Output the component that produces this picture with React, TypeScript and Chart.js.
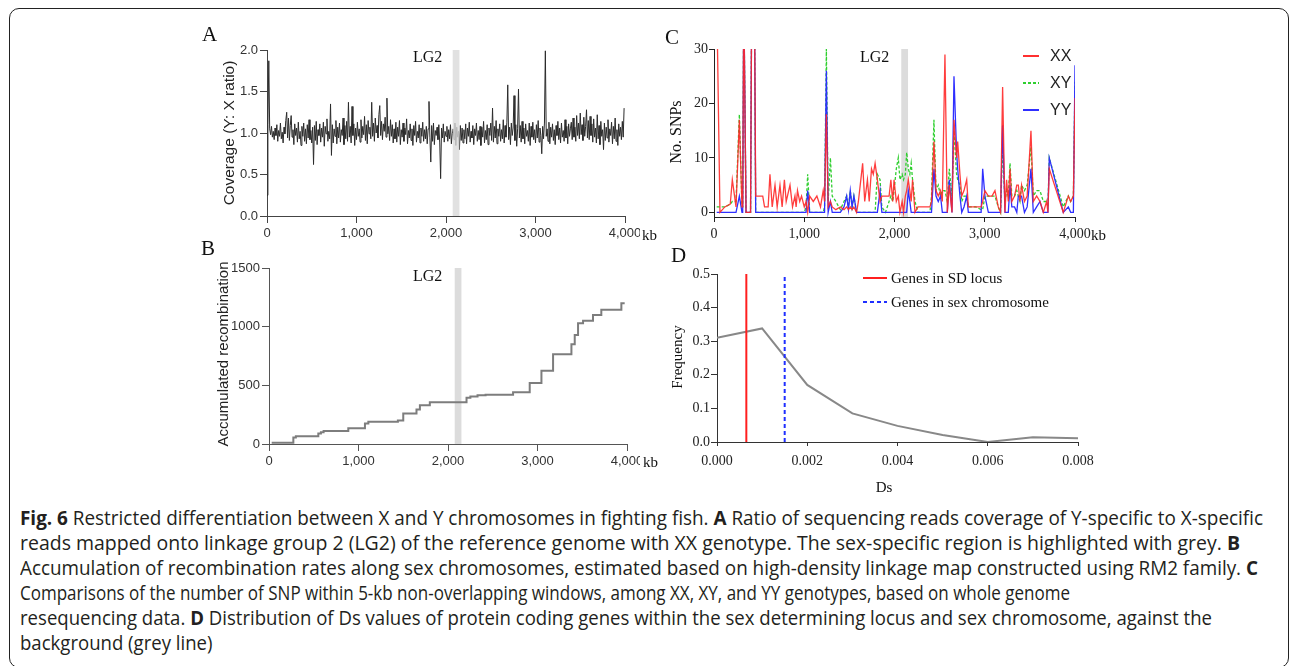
import React, { useEffect, useLayoutEffect, useRef } from "react";
import { Chart, registerables } from "chart.js";

Chart.register(...registerables);

const SANS = '"Liberation Sans", Arial, Helvetica, sans-serif';
const SERIF = '"Liberation Serif", "Times New Roman", Times, serif';
const CAPTION_FONT = '"Open Sans", "Noto Sans", sans-serif';

// ---------- shared ----------
const KB_TICKS = [0, 1000, 2000, 3000, 4000];
const LG2_BAND_KB = [2075, 2150];

// ---------- Panel A: coverage ratio (Y:X), 10-kb windows ----------
const COVERAGE_STEP_KB = 10;
const COVERAGE_RATIO = [
  0.25, 1.10, 1.87, 1.05, 0.98, 1.08, 0.95, 1.02, 0.92, 1.06, 0.97, 1.10, 0.90, 1.03, 0.96, 1.12, 0.93, 1.01, 0.88, 1.07,
  0.99, 1.15, 1.25, 0.94, 1.18, 0.91, 1.09, 1.21, 0.95, 1.04, 0.86, 1.11, 0.97, 1.06, 0.89, 1.13, 0.93, 1.02, 0.85, 1.08,
  0.96, 1.12, 0.90, 1.05, 0.87, 1.10, 0.94, 1.16, 0.92, 1.03, 0.88, 1.07, 0.62, 1.09, 0.91, 1.14, 0.86, 1.04, 0.97, 1.11,
  0.89, 1.06, 0.95, 1.13, 0.84, 1.08, 0.99, 1.17, 0.90, 1.02, 0.93, 1.35, 0.73, 1.10, 0.88, 1.05, 0.96, 1.15, 0.87, 1.07,
  0.94, 1.12, 0.89, 1.04, 0.97, 1.18, 0.86, 1.09, 0.93, 1.14, 0.90, 1.37, 0.95, 1.08, 0.88, 1.32, 0.97, 1.11, 0.85, 1.06,
  0.92, 1.13, 0.96, 1.05, 0.89, 1.16, 0.94, 1.08, 0.98, 1.20, 0.91, 1.10, 0.87, 1.15, 0.99, 1.07, 0.93, 1.37, 0.96, 1.12,
  0.90, 1.18, 1.00, 1.09, 0.94, 1.22, 1.33, 0.97, 1.14, 0.92, 1.11, 1.02, 1.19, 0.95, 1.42, 0.99, 1.08, 0.91, 1.16, 0.96,
  1.10, 0.88, 1.05, 0.93, 1.13, 0.89, 1.07, 0.96, 1.15, 0.86, 1.04, 0.95, 1.12, 0.90, 1.06, 0.98, 1.17, 0.87, 1.03, 0.94,
  1.11, 0.91, 1.05, 0.85, 1.09, 0.97, 1.14, 0.89, 1.02, 0.94, 1.10, 0.88, 1.06, 0.96, 1.13, 0.90, 1.04, 0.93, 1.08, 0.87,
  1.05, 1.38, 0.95, 0.65, 1.09, 0.90, 1.12, 0.86, 1.03, 0.97, 1.07, 0.92, 1.10, 0.88, 0.45, 1.06, 0.94, 1.11, 0.89, 1.02,
  0.96, 1.08, 0.90, 1.04, 0.93, 1.10, 0.87, 0.99, 1.05, 0.92, 1.12, 0.85, 1.07, 0.95, 1.02, 0.80, 1.09, 0.91, 1.06, 0.88,
  1.04, 0.93, 1.11, 0.87, 1.06, 0.96, 1.13, 0.89, 1.02, 0.94, 1.09, 0.86, 1.05, 0.97, 1.12, 0.90, 1.03, 0.92, 1.08, 0.85,
  1.07, 0.95, 1.14, 0.88, 1.03, 0.92, 1.10, 0.86, 1.06, 0.97, 1.12, 0.91, 1.30, 0.89, 1.08, 0.94, 1.15, 0.87, 1.05, 0.96,
  1.11, 0.90, 1.04, 0.93, 1.16, 0.88, 1.09, 0.95, 1.13, 1.58, 0.92, 1.07, 0.86, 1.12, 0.97, 1.06, 1.45, 0.91, 1.10, 0.84,
  1.05, 1.53, 0.94, 1.09, 0.89, 1.14, 0.93, 1.06, 0.87, 1.11, 0.96, 1.03, 0.90, 1.12, 0.85, 1.08, 0.95, 1.13, 0.92, 1.04,
  0.88, 1.10, 0.94, 1.15, 0.89, 1.06, 0.97, 0.75, 1.08, 0.93, 1.12, 1.99, 0.96, 1.05, 0.90, 1.13, 0.87, 1.07, 0.95, 1.11,
  0.91, 1.04, 0.86, 1.09, 0.97, 1.14, 0.92, 1.06, 0.88, 1.12, 0.95, 1.03, 0.90, 1.16, 0.94, 1.08, 0.87, 1.11, 0.96, 1.05,
  1.13, 0.92, 1.18, 0.95, 1.07, 0.90, 1.21, 0.97, 1.12, 0.93, 1.24, 0.98, 1.10, 0.91, 1.19, 0.96, 1.08, 1.28, 0.94, 1.15,
  0.92, 1.20, 0.97, 1.11, 0.89, 1.17, 0.95, 1.06, 0.88, 1.22, 0.93, 1.09, 0.86, 1.14, 0.96, 1.04, 0.80, 1.12, 0.91, 1.07,
  0.94, 1.16, 0.89, 1.05, 0.97, 1.13, 0.87, 1.08, 0.93, 1.18, 0.90, 1.04, 0.85, 1.11, 0.96, 1.07, 0.92, 1.14, 0.95, 1.30,
];
const COVERAGE_TICKS = [0, 0.5, 1, 1.5, 2];

// ---------- Panel B: accumulated recombination (step changes) ----------
const RECOMB_KB = [30, 272, 300, 551, 580, 610, 886, 1072, 1110, 1440, 1500, 1648, 1686, 1797, 2207, 2250, 2330, 2420, 2727, 2913, 3044, 3174, 3379, 3416, 3453, 3509, 3620, 3713, 3937, 3974];
const RECOMB_ACCUM = [10, 55, 65, 90, 100, 110, 135, 175, 190, 200, 260, 295, 330, 355, 395, 405, 415, 420, 440, 520, 625, 765, 850, 930, 1030, 1050, 1100, 1145, 1200, 1200];
const RECOMB_TICKS = [0, 500, 1000, 1500];

// ---------- Panel C: No. SNPs in 5-kb windows ----------
const SNP_KB = [
  30, 66, 120, 180, 203, 244, 281, 310, 318, 330,
  355, 405, 418, 448, 462, 540, 560, 600, 620, 645,
  676, 700, 731, 755, 780, 800, 842, 870, 897, 910,
  925, 950, 970, 1000, 1020, 1038, 1060, 1100, 1140, 1180,
  1210, 1225, 1245, 1265, 1290, 1310, 1350, 1400, 1440, 1470,
  1490, 1510, 1530, 1550, 1580, 1600, 1647, 1670, 1700, 1720,
  1745, 1765, 1785, 1810, 1840, 1860, 1900, 1940, 1960, 1980,
  1995, 2020, 2042, 2060, 2085, 2100, 2120, 2135, 2153, 2170,
  2185, 2200, 2227, 2260, 2300, 2340, 2393, 2410, 2437, 2460,
  2485, 2510, 2530, 2559, 2585, 2607, 2637, 2659, 2688, 2700,
  2725, 2745, 2770, 2800, 2818, 2900, 2960, 2977, 3002, 3040,
  3080, 3113, 3150, 3175, 3198, 3224, 3242, 3261, 3280, 3300,
  3330, 3355, 3372, 3390, 3408, 3440, 3470, 3512, 3538, 3575,
  3612, 3649, 3686, 3700, 3715, 3870, 3926, 3952, 3982, 4000,
];
const SNP_XX = [
  40, 0, 1, 1.5, 6, 1, 17, 1, 1, 40,
  0, 0, 40, 40, 3, 3, 1, 1, 7, 1,
  5, 1, 5, 1, 6, 2, 5, 1, 3, 1,
  4, 2, 3, 1, 2, 0, 3, 2, 3, 1,
  4, 2, 18, 1, 2, 1, 0.5, 1, 0.5, 1,
  0.5, 1, 0.5, 1, 0, 2, 9, 2, 6, 2,
  8, 7, 9, 6, 2, 3, 3, 3, 6, 2,
  6, 2, 3, 0, 2, 0, 3, 4, 6, 4,
  2, 6, 0, 1, 1, 1, 1, 2, 13, 4,
  3, 4, 2, 29, 0, 5, 0, 17, 10, 13,
  7, 3, 4, 6, 1, 1, 1, 2, 4, 3,
  3, 4, 1, 0, 23, 0, 6, 2, 8, 2,
  3, 5, 5, 2, 5, 2, 3, 15, 2, 3,
  2, 0, 2, 0, 8, 0, 3, 2, 3, 21,
];
const SNP_XY = [
  1, 1, 1, 1.5, 2, 2, 18, 1, 1, 40,
  0, 0, 40, 40, 0, 0, 0, 0, 0, 0,
  0, 0, 0, 0, 0, 0, 0, 0, 0, 0,
  0, 0, 0, 0, 1, 7, 0, 0, 0, 0,
  0, 1, 30, 2, 10, 3, 2, 0.5, 2, 3,
  1, 4, 1, 3, 0, 0, 0, 0, 0, 0,
  0, 0, 0, 7, 6, 1, 0, 2, 3, 2,
  4, 8, 10, 6, 7, 6, 7, 11, 8, 7,
  9, 6, 2, 0, 0, 0, 0, 3, 17, 4,
  5, 3, 4, 4, 2, 8, 3, 15, 7, 6,
  5, 2, 3, 3, 1, 1, 0.5, 0.5, 3, 3,
  3, 3, 1, 0, 12, 2, 4, 3, 9, 3,
  3, 4, 3, 2, 5, 4, 5, 12, 3, 4,
  4, 2, 2, 1, 10, 1, 3, 2, 3, 24,
];
const SNP_YY = [
  0, 0, 0, 0, 0, 0, 3, 0, 0, 40,
  0, 0, 40, 40, 0, 0, 0, 0, 0, 0,
  0, 0, 0, 0, 0, 0, 0, 0, 0, 0,
  0, 0, 0, 0, 0, 4, 0, 0, 0, 0,
  0, 0, 26, 0, 2, 0, 0, 0, 1, 3,
  0.5, 4, 1, 3, 0, 0, 0, 0, 0, 0,
  0, 0, 0, 0, 4, 0, 0, 0, 0, 0,
  0, 0, 0, 0, 0, 0, 0, 0, 4, 2,
  0, 0, 0, 0, 0, 0, 0, 0, 8, 3,
  2, 3, 0, 0, 0, 6, 0, 25, 11, 8,
  3, 0, 1, 3, 0, 0, 0, 8, 3, 0,
  0, 0, 0, 0, 16, 0, 0, 0, 5, 1,
  1, 0, 3, 3, 3, 0, 1, 8, 0, 1,
  2, 0, 0, 0, 10, 0, 1, 0, 0, 27,
];
const SNP_TICKS = [0, 10, 20, 30];

// ---------- Panel D: Ds distribution ----------
const DS_BINS = [0, 0.001, 0.002, 0.003, 0.004, 0.005, 0.006, 0.007, 0.008];
const DS_FREQUENCY = [0.31, 0.338, 0.17, 0.085, 0.048, 0.021, 0.0, 0.014, 0.011];
const DS_SD_LOCUS = 0.00065;
const DS_SEX_CHROMOSOME = 0.0015;
const DS_TICKS = [0, 0.002, 0.004, 0.006, 0.008];
const FREQ_TICKS = [0, 0.1, 0.2, 0.3, 0.4, 0.5];

// ---------- caption ----------
const CAPTION_LINES: [string, boolean][][] = [
  [["Fig. 6", true], [" Restricted differentiation between X and Y chromosomes in fighting fish. ", false], ["A", true], [" Ratio of sequencing reads coverage of Y-specific to X-specific", false]],
  [["reads mapped onto linkage group 2 (LG2) of the reference genome with XX genotype. The sex-specific region is highlighted with grey. ", false], ["B", true]],
  [["Accumulation of recombination rates along sex chromosomes, estimated based on high-density linkage map constructed using RM2 family. ", false], ["C", true]],
  [["Comparisons of the number of SNP within 5-kb non-overlapping windows, among XX, XY, and YY genotypes, based on whole genome", false]],
  [["resequencing data. ", false], ["D", true], [" Distribution of Ds values of protein coding genes within the sex determining locus and sex chromosome, against the", false]],
  [["background (grey line)", false]],
];
const CAPTION_LEFT = 20;
const CAPTION_RIGHT: (number | null)[] = [1263, 1240, 1258, 1070, 1212, null];

// ---------- helpers ----------
function makeAxis(o: any) {
  return {
    type: "linear",
    min: o.min,
    max: o.max,
    afterBuildTicks: (s: any) => {
      s.ticks = o.ticks.map((v: number) => ({ value: v }));
    },
    ticks: {
      callback: (v: any) => o.fmt(Number(v)),
      font: o.font,
      color: o.textColor || "#222",
      padding: o.pad,
      autoSkip: false,
      maxRotation: 0,
      minRotation: 0,
    },
    grid: { drawOnChartArea: false, drawTicks: true, tickLength: o.tickLength, color: o.color, lineWidth: 1 },
    border: { display: true, color: o.color, width: 1 },
    afterFit: (s: any) => {
      if (o.vertical) s.width = o.size;
      else s.height = o.size;
      s.paddingLeft = 0;
      s.paddingRight = 0;
      s.paddingTop = 0;
      s.paddingBottom = 0;
    },
  };
}

function baseOptions(padding: any, scales: any) {
  return {
    responsive: false,
    animation: false,
    events: [],
    layout: { padding },
    plugins: { legend: { display: false }, tooltip: { enabled: false }, title: { display: false } },
    elements: { point: { radius: 0 }, line: { tension: 0 } },
    scales,
  };
}

function bandPlugin(front: boolean, color: string) {
  const draw = (chart: any) => {
    const { ctx, chartArea, scales } = chart;
    const x0 = scales.x.getPixelForValue(LG2_BAND_KB[0]);
    const x1 = scales.x.getPixelForValue(LG2_BAND_KB[1]);
    ctx.save();
    ctx.fillStyle = color;
    ctx.fillRect(x0, chartArea.top, x1 - x0, chartArea.bottom - chartArea.top);
    ctx.restore();
  };
  return front ? { id: "lg2bandFront", afterDatasetsDraw: draw } : { id: "lg2bandBack", beforeDatasetsDraw: draw };
}

const fmtKb = (v: number) => v.toLocaleString("en-US");

function buildA() {
  const font = { family: SANS, size: 13 };
  return {
    type: "line",
    data: {
      datasets: [
        {
          data: COVERAGE_RATIO.map((v, i) => ({ x: i * COVERAGE_STEP_KB, y: v })),
          borderColor: "#2b2b2b",
          borderWidth: 1,
          pointRadius: 0,
        },
      ],
    },
    options: baseOptions(
      { left: 0, top: 30, right: 15, bottom: 0 },
      {
        x: makeAxis({ min: 0, max: 4000, ticks: KB_TICKS, fmt: fmtKb, font, textColor: "#333", pad: 3, tickLength: 7, color: "#444", size: 34 }),
        y: makeAxis({ min: 0, max: 2, ticks: COVERAGE_TICKS, fmt: (v: number) => v.toFixed(1), font, textColor: "#333", pad: 2, tickLength: 7, color: "#444", size: 77, vertical: true }),
      }
    ),
    plugins: [bandPlugin(true, "rgba(218,218,218,0.8)")],
  };
}

function buildB() {
  const font = { family: SANS, size: 13 };
  return {
    type: "line",
    data: {
      datasets: [
        {
          data: RECOMB_KB.map((x, i) => ({ x, y: RECOMB_ACCUM[i] })),
          borderColor: "#7d7d7d",
          borderWidth: 2,
          pointRadius: 0,
          stepped: true,
        },
      ],
    },
    options: baseOptions(
      { left: 0, top: 23, right: 13, bottom: 0 },
      {
        x: makeAxis({ min: 0, max: 4000, ticks: KB_TICKS, fmt: fmtKb, font, textColor: "#333", pad: 3, tickLength: 7, color: "#555", size: 31 }),
        y: makeAxis({ min: 0, max: 1500, ticks: RECOMB_TICKS, fmt: (v: number) => String(v), font, textColor: "#333", pad: 2, tickLength: 7, color: "#555", size: 79, vertical: true }),
      }
    ),
    plugins: [bandPlugin(false, "#dcdcdc")],
  };
}

function buildC() {
  const font = { family: SERIF, size: 14 };
  const pts = (arr: number[]) => SNP_KB.map((x, i) => ({ x, y: arr[i] }));
  return {
    type: "line",
    data: {
      datasets: [
        { data: pts(SNP_XX), borderColor: "rgba(255,40,40,0.9)", borderWidth: 1.3, pointRadius: 0 },
        { data: pts(SNP_YY), borderColor: "#2f2fff", borderWidth: 1.3, pointRadius: 0 },
        { data: pts(SNP_XY), borderColor: "#2fcf2f", borderWidth: 1.3, borderDash: [3, 2], pointRadius: 0 },
      ],
    },
    options: baseOptions(
      { left: 0, top: 29, right: 25, bottom: 0 },
      {
        x: makeAxis({ min: 0, max: 4000, ticks: KB_TICKS, fmt: fmtKb, font, pad: 4, tickLength: 5, color: "#222", size: 33 }),
        y: makeAxis({ min: -0.85, max: 30, ticks: SNP_TICKS, fmt: (v: number) => String(v), font, pad: 1, tickLength: 5, color: "#222", size: 54, vertical: true }),
      }
    ),
    plugins: [bandPlugin(false, "#dcdcdc")],
  };
}

function buildD() {
  const font = { family: SERIF, size: 14 };
  return {
    type: "line",
    data: {
      datasets: [
        { data: [{ x: DS_SD_LOCUS, y: 0 }, { x: DS_SD_LOCUS, y: 0.5 }], borderColor: "#ff1f1f", borderWidth: 2, pointRadius: 0 },
        { data: [{ x: DS_SEX_CHROMOSOME, y: 0 }, { x: DS_SEX_CHROMOSOME, y: 0.5 }], borderColor: "#1f2fff", borderWidth: 2, borderDash: [4, 3], pointRadius: 0 },
        { data: DS_BINS.map((x, i) => ({ x, y: DS_FREQUENCY[i] })), borderColor: "#888888", borderWidth: 2, pointRadius: 0 },
      ],
    },
    options: baseOptions(
      { left: 0, top: 29, right: 22, bottom: 0 },
      {
        x: makeAxis({ min: 0, max: 0.008, ticks: DS_TICKS, fmt: (v: number) => v.toFixed(3), font, pad: 7, tickLength: 4, color: "#333", size: 33 }),
        y: makeAxis({ min: 0, max: 0.5, ticks: FREQ_TICKS, fmt: (v: number) => v.toFixed(1), font, pad: 1, tickLength: 6, color: "#333", size: 57, vertical: true }),
      }
    ),
  };
}

function ChartCanvas({ left, top, width, height, build }: any) {
  const ref = useRef<HTMLCanvasElement>(null);
  useEffect(() => {
    if (!ref.current) return;
    const chart = new Chart(ref.current, build() as any);
    return () => chart.destroy();
  }, []);
  return (
    <canvas
      ref={ref}
      width={width}
      height={height}
      style={{ position: "absolute", left, top, width, height, display: "block" }}
    />
  );
}

function Label({ x, y, text, family, size, align = "left", rotate = false, weight = 400, color = "#111" }: any) {
  const tx = align === "left" ? "0" : align === "right" ? "-100%" : "-50%";
  const transform = rotate ? "translate(-50%,-50%) rotate(-90deg)" : `translate(${tx},-50%)`;
  return (
    <div
      style={{
        position: "absolute",
        left: x,
        top: y,
        transform,
        fontFamily: family,
        fontSize: size,
        fontWeight: weight,
        lineHeight: 1,
        whiteSpace: "nowrap",
        color,
      }}
    >
      {text}
    </div>
  );
}

function LegendLine({ x, y, w, color, thick = 2, dash }: any) {
  const bg = dash
    ? `repeating-linear-gradient(to right, ${color} 0 ${dash[0]}px, transparent ${dash[0]}px ${dash[0] + dash[1]}px)`
    : color;
  return <div style={{ position: "absolute", left: x, top: y - thick / 2, width: w, height: thick, background: bg }} />;
}

function Caption() {
  const refs = useRef<(HTMLDivElement | null)[]>([]);
  useLayoutEffect(() => {
    const fit = () => {
      const els = refs.current;
      const widths = els.map((el) => {
        if (!el) return 0;
        el.style.transform = "none";
        return el.getBoundingClientRect().width;
      });
      const scales: (number | null)[] = widths.map((w, i) => {
        const r = CAPTION_RIGHT[i];
        return r != null && w > 0 ? (r - CAPTION_LEFT) / w : null;
      });
      const known = scales.filter((s) => s != null) as number[];
      const mean = known.length ? known.reduce((a, b) => a + b, 0) / known.length : 1;
      els.forEach((el, i) => {
        if (!el) return;
        const s = scales[i] != null ? (scales[i] as number) : mean;
        el.style.transform = `scaleX(${s})`;
      });
    };
    fit();
    const f = (document as any).fonts;
    if (f && f.ready) f.ready.then(fit);
  }, []);
  return (
    <>
      {CAPTION_LINES.map((line, i) => (
        <div
          key={i}
          ref={(el) => {
            refs.current[i] = el;
          }}
          style={{
            position: "absolute",
            left: CAPTION_LEFT,
            top: 505 + i * 25,
            whiteSpace: "nowrap",
            fontFamily: CAPTION_FONT,
            fontSize: 20,
            lineHeight: "25px",
            color: "#231f20",
            transformOrigin: "0 50%",
          }}
        >
          {line.map(([t, b], j) => (
            <span key={j} style={{ fontWeight: b ? 700 : 400 }}>
              {t}
            </span>
          ))}
        </div>
      ))}
    </>
  );
}

export default function App() {
  return (
    <div style={{ position: "absolute", left: 0, top: 0, width: 1290, height: 666, overflow: "hidden", background: "#fff" }}>
      <div
        style={{
          position: "absolute",
          left: 9,
          top: 8,
          width: 1280,
          height: 660,
          border: "1.5px solid #222",
          borderRadius: 10,
          boxSizing: "border-box",
        }}
      />

      <ChartCanvas left={190} top={20} width={450} height={230} build={buildA} />
      <ChartCanvas left={190} top={245} width={450} height={230} build={buildB} />
      <ChartCanvas left={660} top={20} width={440} height={230} build={buildC} />
      <ChartCanvas left={660} top={245} width={440} height={230} build={buildD} />

      {/* panel letters */}
      <Label x={202} y={34} text="A" family={SERIF} size={21} />
      <Label x={201} y={248} text="B" family={SERIF} size={21} />
      <Label x={665} y={37} text="C" family={SERIF} size={21} />
      <Label x={671} y={255} text="D" family={SERIF} size={21} />

      {/* LG2 labels */}
      <Label x={413} y={57} text="LG2" family={SERIF} size={16} />
      <Label x={413} y={276} text="LG2" family={SERIF} size={16} />
      <Label x={860} y={57} text="LG2" family={SERIF} size={16} />

      {/* axis titles */}
      <Label x={229} y={133} text="Coverage (Y: X ratio)" family={SANS} size={15.5} rotate color="#222" />
      <Label x={222} y={354} text="Accumulated recombination" family={SANS} size={15} rotate color="#222" />
      <Label x={676} y={132} text="No. SNPs" family={SERIF} size={16} rotate />
      <Label x={677} y={357} text="Frequency" family={SERIF} size={15} rotate />
      <Label x={884} y={487} text="Ds" family={SERIF} size={15} align="center" />

      {/* kb units */}
      <Label x={642} y={235} text="kb" family={SERIF} size={15} />
      <Label x={643} y={462} text="kb" family={SERIF} size={15} />
      <Label x={1091} y={235} text="kb" family={SERIF} size={15} />

      {/* legend C */}
      <LegendLine x={1023} y={56} w={16} color="#ff3030" thick={1.5} />
      <Label x={1050} y={56} text="XX" family={SANS} size={16} color="#222" />
      <LegendLine x={1023} y={83} w={16} color="#2fcf2f" thick={1.5} dash={[3, 2]} />
      <Label x={1050} y={83} text="XY" family={SANS} size={16} color="#222" />
      <LegendLine x={1023} y={110} w={16} color="#2f2fff" thick={1.5} />
      <Label x={1050} y={110} text="YY" family={SANS} size={16} color="#222" />

      {/* legend D */}
      <LegendLine x={863} y={278} w={24} color="#ff1f1f" thick={2} />
      <Label x={891} y={278} text="Genes in SD locus" family={SERIF} size={15} />
      <LegendLine x={863} y={302} w={24} color="#1f2fff" thick={2} dash={[4, 3]} />
      <Label x={891} y={302} text="Genes in sex chromosome" family={SERIF} size={15} />

      <Caption />
    </div>
  );
}
